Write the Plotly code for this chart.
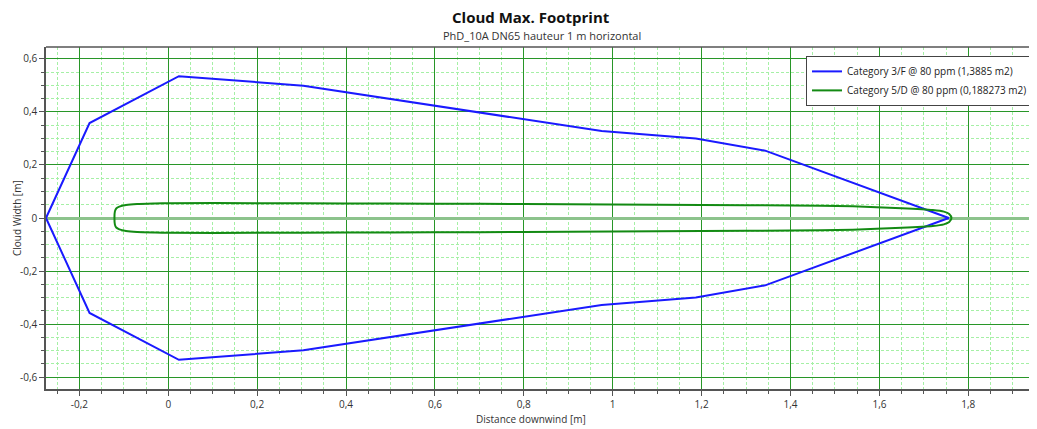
import plotly.graph_objects as go

# Category 3/F footprint outline (distance downwind, cloud width)
cat3f_x = [-0.275, -0.177, 0.024, 0.304, 0.975, 1.187, 1.343, 1.756,
           1.343, 1.187, 0.975, 0.304, 0.024, -0.177, -0.275]
cat3f_y = [0.0, 0.358, 0.535, 0.499, 0.328, 0.300, 0.254, 0.0,
           -0.254, -0.300, -0.328, -0.499, -0.535, -0.358, 0.0]

# Category 5/D footprint outline
cat5d_x = [-0.121, -0.120, -0.117, -0.110, -0.095, -0.070, -0.030, 0.0, 0.2, 0.4,
           0.6, 0.8, 1.0, 1.2, 1.4, 1.54, 1.65, 1.72, 1.745, 1.757, 1.762,
           1.757, 1.745, 1.72, 1.65, 1.54, 1.4, 1.2, 1.0, 0.8, 0.6,
           0.4, 0.2, 0.0, -0.030, -0.070, -0.095, -0.110, -0.117, -0.120, -0.121]
cat5d_y = [0.0, 0.025, 0.036, 0.043, 0.049, 0.053, 0.055, 0.056, 0.056, 0.055,
           0.054, 0.053, 0.051, 0.049, 0.047, 0.044, 0.037, 0.030, 0.024, 0.015, 0.0,
           -0.015, -0.024, -0.030, -0.037, -0.044, -0.047, -0.049, -0.051, -0.053, -0.054,
           -0.055, -0.056, -0.056, -0.055, -0.053, -0.049, -0.043, -0.036, -0.025, 0.0]

x_ticks = [-0.2, 0, 0.2, 0.4, 0.6, 0.8, 1, 1.2, 1.4, 1.6, 1.8]
x_labels = ["-0,2", "0", "0,2", "0,4", "0,6", "0,8", "1", "1,2", "1,4", "1,6", "1,8"]
y_ticks = [-0.6, -0.4, -0.2, 0, 0.2, 0.4, 0.6]
y_labels = ["-0,6", "-0,4", "-0,2", "0", "0,2", "0,4", "0,6"]

font = "Open Sans"
major_grid = "rgb(40,150,40)"
minor_grid = "rgb(165,240,165)"
axis_col = "#555555"

fig = go.Figure()
fig.add_scatter(
    x=cat3f_x, y=cat3f_y, mode="lines",
    name="Category 3/F @ 80 ppm (1,3885 m2)",
    line=dict(color="#1a1aff", width=2),
)
fig.add_scatter(
    x=cat5d_x, y=cat5d_y, mode="lines",
    name="Category 5/D @ 80 ppm (0,188273 m2)",
    line=dict(color="#138a13", width=2, shape="spline", smoothing=0.6),
)

axis_common = dict(
    automargin=False,
    showline=True, linecolor=axis_col, linewidth=1.5,
    ticks="outside", ticklen=5, tickcolor=axis_col,
    tickfont=dict(size=10, color="#333333", family=font),
    showgrid=True, gridcolor=major_grid, gridwidth=1,
    tickmode="array",
    minor=dict(tickmode="linear", tick0=0, dtick=0.05, ticks="outside", ticklen=3,
               tickcolor=axis_col, showgrid=True, gridcolor=minor_grid,
               griddash="3px,2px", gridwidth=1),
)

fig.update_xaxes(**axis_common, range=[-0.275, 1.95], tickvals=x_ticks,
                 ticktext=x_labels, zeroline=False)
fig.update_yaxes(**axis_common, range=[-0.645, 0.645], tickvals=y_ticks,
                 ticktext=y_labels, zeroline=True,
                 zerolinecolor="rgb(140,195,140)", zerolinewidth=2.5)

fig.add_shape(type="line", xref="paper", yref="paper", x0=0, x1=1, y0=1, y1=1,
              line=dict(color=axis_col, width=1.5))

fig.add_annotation(text="<b>Cloud Max. Footprint</b>", xref="paper", yref="paper",
                   x=0.49, y=1, yanchor="middle", yshift=30, showarrow=False,
                   font=dict(size=15, color="#111111", family=font))
fig.add_annotation(text="PhD_10A DN65 hauteur 1 m horizontal", xref="paper", yref="paper",
                   x=0.502, y=1, yanchor="middle", yshift=12, showarrow=False,
                   font=dict(size=11, color="#333333", family=font))
fig.add_annotation(text="Distance downwind [m]", xref="paper", yref="paper",
                   x=0.49, y=0, yanchor="middle", yshift=-30, showarrow=False,
                   font=dict(size=10, color="#333333", family=font))
fig.add_annotation(text="Cloud Width [m]", xref="paper", yref="paper",
                   x=0, y=0.5, xanchor="center", xshift=-29, textangle=-90,
                   showarrow=False, font=dict(size=10, color="#333333", family=font))

# page body keeps an 8px margin, so the figure is shrunk and shifted to compensate
fig.update_layout(
    width=1029, height=421,
    margin=dict(l=38, r=2, t=39, b=40, autoexpand=False),
    paper_bgcolor="white", plot_bgcolor="white",
    font=dict(family=font),
    showlegend=True,
    legend=dict(x=0.998, y=0.974, xanchor="right", yanchor="top",
                bgcolor="white", bordercolor="#444444", borderwidth=1,
                font=dict(size=10, color="#222222", family=font),
                tracegroupgap=0, itemwidth=30),
)

fig.write_html("out.html")
